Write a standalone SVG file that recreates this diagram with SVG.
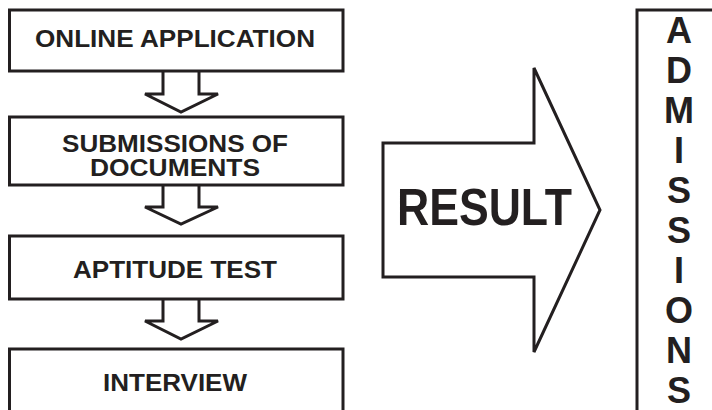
<svg xmlns="http://www.w3.org/2000/svg" width="712" height="410" viewBox="0 0 712 410">
<style>
.box{fill:#fff;stroke:#231f20;stroke-width:3}
.arr{fill:#fff;stroke:#231f20;stroke-width:3;stroke-linejoin:miter}
.t{font-family:"Liberation Sans",Arial,sans-serif;font-weight:bold;fill:#231f20;text-anchor:middle}
.s{font-size:23.5px}
.big{font-size:52px}
.v{font-size:36px}
</style>
<rect width="712" height="410" fill="#fff"/>
<g id="connectors">
<path class="arr" d="M163,71 V94 H145 L181,112 L218,94 H199 V71"/>
<path class="arr" d="M163,185 V207 H145 L181,224 L218,207 H199 V185"/>
<path class="arr" d="M163,299 V321 H145 L181,339 L218,321 H199 V299"/>
</g>
<g id="online-application">
<rect class="box" x="9.5" y="10" width="333.5" height="61"/>
<text class="t s" x="175" y="46.5" textLength="280" lengthAdjust="spacingAndGlyphs">ONLINE APPLICATION</text>
</g>
<g id="submissions">
<rect class="box" x="9.5" y="117" width="333.5" height="68"/>
<text class="t s" x="175" y="152" textLength="226" lengthAdjust="spacingAndGlyphs">SUBMISSIONS OF</text>
<text class="t s" x="175" y="175.5" textLength="170" lengthAdjust="spacingAndGlyphs">DOCUMENTS</text>
</g>
<g id="aptitude-test">
<rect class="box" x="9.5" y="236" width="333.5" height="63"/>
<text class="t s" x="175" y="278" textLength="204" lengthAdjust="spacingAndGlyphs">APTITUDE TEST</text>
</g>
<g id="interview">
<rect class="box" x="9.5" y="349" width="333.5" height="100"/>
<text class="t s" x="175" y="390.5" textLength="144" lengthAdjust="spacingAndGlyphs">INTERVIEW</text>
</g>
<g id="result">
<path class="arr" d="M383,143 H534 V68 L600,210 L534,352 V277 H383 Z"/>
<text class="t big" x="484.5" y="225" textLength="175" lengthAdjust="spacingAndGlyphs">RESULT</text>
</g>
<g id="admissions">
<rect class="box" x="637" y="10" width="200" height="500"/>
<text class="t v" x="679" y="43">A</text>
<text class="t v" x="679" y="83">D</text>
<text class="t v" x="679" y="123">M</text>
<text class="t v" x="679" y="163">I</text>
<text class="t v" x="679" y="203">S</text>
<text class="t v" x="679" y="243">S</text>
<text class="t v" x="679" y="283">I</text>
<text class="t v" x="679" y="323">O</text>
<text class="t v" x="679" y="363">N</text>
<text class="t v" x="679" y="403">S</text>
</g>
</svg>
